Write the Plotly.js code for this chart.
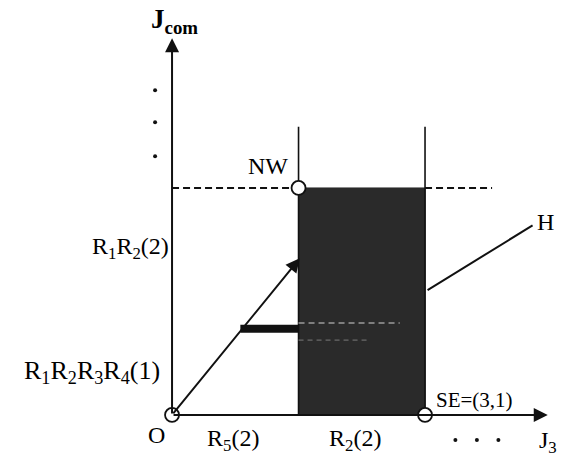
<!DOCTYPE html>
<html><head><meta charset="utf-8">
<script src="https://cdn.plot.ly/plotly-3.0.1.min.js"></script>
<style>html,body{margin:0;padding:0;background:#fff}#c{width:570px;height:459px}</style>
</head><body><div id="c"></div>
<script>
// diagram values (J3 units horizontally, Jcom units vertically)
const boxJ3 = [1, 2];          // J3 span of the dark region (R2(2))
const boxJcom = [0, 2];        // Jcom span of the dark region
const nwPoint = [1, 2];        // NW corner
const sePoint = [2, 0];        // SE = (3,1)
const originPoint = [0, 0];    // O
const wallTop = 2.54;          // top of the vertical walls
const dashRightEnd = 2.53;     // end of the dashed level line on the right
const arrowTip = [1.01, 1.38]; // arrow from O
const barLevel = 0.76;         // thick horizontal bar level
const barJ3 = [0.54, 1.0];     // thick bar span
const faintJ3 = [1.0, 1.80];   // faint continuation inside the box
const hLineJ3 = [2.02, 2.85];
const hLineJcom = [1.10, 1.67];
const axisEndJ3 = 2.97;
const axisEndJcom = 3.32;
const vDotsJcom = [2.86, 2.58, 2.28];
const hDotsJ3 = [2.24, 2.41, 2.58];

const F = 'Liberation Serif, Times New Roman, serif';
const black = '#111';
const traces = [
  {x:[boxJ3[0],boxJ3[1],boxJ3[1],boxJ3[0],boxJ3[0]], y:[boxJcom[0],boxJcom[0],boxJcom[1],boxJcom[1],boxJcom[0]],
   mode:'lines', fill:'toself', fillcolor:'#2a2a2a', line:{color:'#2a2a2a', width:1}},
  {x:[boxJ3[0],boxJ3[0]], y:[0,wallTop], mode:'lines', line:{color:black,width:1.6}},
  {x:[boxJ3[1],boxJ3[1]], y:[0,wallTop], mode:'lines', line:{color:black,width:1.6}},
  {x:[0,nwPoint[0]], y:[nwPoint[1],nwPoint[1]], mode:'lines', line:{color:black,width:2,dash:'7px,4px'}},
  {x:[boxJ3[1],dashRightEnd], y:[nwPoint[1],nwPoint[1]], mode:'lines', line:{color:black,width:2,dash:'7px,4px'}},
  {x:barJ3, y:[barLevel,barLevel], mode:'lines', line:{color:black,width:8}},
  {x:faintJ3, y:[barLevel+0.05,barLevel+0.05], mode:'lines', line:{color:'#9a9a9a',width:1.5,dash:'6px,4px'}},
  {x:[faintJ3[0],faintJ3[0]+0.55], y:[barLevel-0.1,barLevel-0.1], mode:'lines', line:{color:'#6a6a6a',width:1.2,dash:'5px,4px'}},
  {x:hLineJ3, y:hLineJcom, mode:'lines', line:{color:black,width:2}},
  {x:vDotsJcom.map(()=>-0.134), y:vDotsJcom, mode:'markers', marker:{color:black,size:4}},
  {x:hDotsJ3, y:hDotsJ3.map(()=>-0.22), mode:'markers', marker:{color:black,size:4}},
  {x:[originPoint[0],nwPoint[0],sePoint[0]], y:[originPoint[1],nwPoint[1],sePoint[1]], mode:'markers',
   marker:{symbol:'circle', size:14, color:'#fff', line:{color:black,width:1.8}}}
];
const ann = (x,y,text,o={}) => Object.assign({x,y,text,showarrow:false,xref:'x',yref:'y',font:{family:F,size:24,color:'#000'}},o);
const arrow = (x0,y0,x1,y1) => ({x:x1,y:y1,ax:x0,ay:y0,axref:'x',ayref:'y',xref:'x',yref:'y',text:'',showarrow:true,
  arrowhead:2,arrowsize:1.4,arrowwidth:2,arrowcolor:black,standoff:0,startstandoff:0});
const layout = {
  width:570, height:459, margin:{l:0,r:0,t:0,b:0}, paper_bgcolor:'#fff', plot_bgcolor:'#fff', showlegend:false,
  xaxis:{range:[-1.36,3.146], visible:false, fixedrange:true},
  yaxis:{range:[-0.388,3.656], visible:false, fixedrange:true},
  annotations:[
    arrow(0,0,0,axisEndJcom),
    arrow(0,0,axisEndJ3,0),
    arrow(originPoint[0],originPoint[1],arrowTip[0],arrowTip[1]),
    ann(0.02,3.47,'<b>J<sub>com</sub></b>',{font:{family:F,size:27,color:'#000'}}),
    ann(0.76,2.19,'NW'),
    ann(-0.01,1.47,'R<sub>1</sub>R<sub>2</sub>(2)',{xanchor:'right'}),
    ann(-0.08,0.38,'R<sub>1</sub>R<sub>2</sub>R<sub>3</sub>R<sub>4</sub>(1)',{xanchor:'right',font:{family:F,size:26,color:'#000'}}),
    ann(-0.12,-0.18,'O'),
    ann(0.48,-0.22,'R<sub>5</sub>(2)'),
    ann(1.45,-0.22,'R<sub>2</sub>(2)'),
    ann(2.39,0.13,'SE=(3,1)',{font:{family:F,size:21,color:'#000'}}),
    ann(2.97,-0.24,'J<sub>3</sub>'),
    ann(2.95,1.70,'H')
  ]
};
Plotly.newPlot('c', traces, layout, {staticPlot:true, displayModeBar:false});
</script></body></html>
